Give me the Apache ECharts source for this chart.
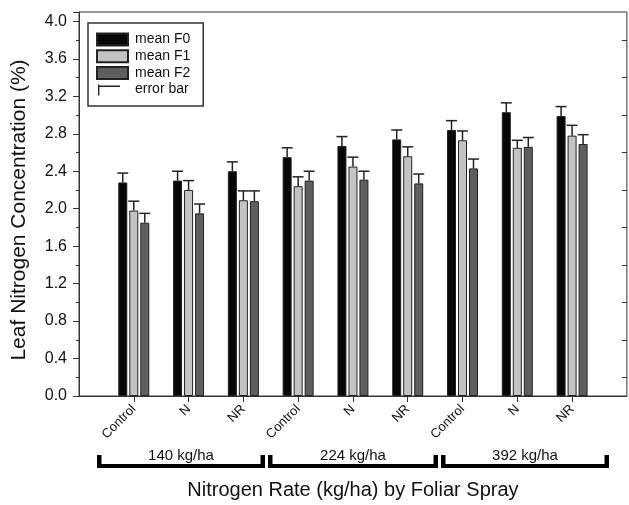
<!DOCTYPE html>
<html><head><meta charset="utf-8">
<script src="https://cdn.jsdelivr.net/npm/echarts@6/dist/echarts.min.js"></script>
<style>html,body{margin:0;padding:0;background:#fff}#c{width:629px;height:505px}</style>
</head><body><div id="c"></div>
<script>
// ---- data ----
const categories = ['Control', 'N', 'NR', 'Control', 'N', 'NR', 'Control', 'N', 'NR'];
const groupLabels = ['140 kg/ha', '224 kg/ha', '392 kg/ha'];
const seriesNames = ['mean F0', 'mean F1', 'mean F2'];
const meanF0 = [2.28, 2.30, 2.40, 2.55, 2.67, 2.74, 2.84, 3.03, 2.99];
const meanF1 = [1.98, 2.20, 2.09, 2.24, 2.45, 2.56, 2.73, 2.65, 2.78];
const meanF2 = [1.85, 1.95, 2.08, 2.30, 2.31, 2.27, 2.43, 2.66, 2.69];
const errF0 = [0.10, 0.10, 0.10, 0.10, 0.10, 0.10, 0.10, 0.10, 0.10];
const errF1 = [0.10, 0.10, 0.10, 0.10, 0.10, 0.10, 0.10, 0.08, 0.11];
const errF2 = [0.10, 0.10, 0.11, 0.10, 0.09, 0.10, 0.10, 0.10, 0.10];
const yTicks = [0.0, 0.4, 0.8, 1.2, 1.6, 2.0, 2.4, 2.8, 3.2, 3.6, 4.0];

// ---- styling ----
const FONT = '"Liberation Sans", Arial, Helvetica, sans-serif';
const colors = ['#070707', '#c3c3c3', '#5f5f5f'];
const BAR_W = 9, BAR_GAP = 2;

const axisCats = [''].concat(categories).concat(['']);
const pad = arr => [null].concat(arr).concat([null]);
const means = [meanF0, meanF1, meanF2];
const errs = [errF0, errF1, errF2];

const barSeries = means.map((m, s) => ({
  name: seriesNames[s],
  type: 'bar',
  data: pad(m),
  barWidth: BAR_W,
  barGap: (BAR_GAP / BAR_W * 100) + '%',
  itemStyle: { color: colors[s], borderColor: '#222', borderWidth: 1 },
  emphasis: { disabled: true },
  z: 2
}));

const errData = [];
means.forEach((m, s) => m.forEach((v, i) => errData.push([i + 1, v + errs[s][i], s, v])));

const errSeries = {
  name: 'error bar',
  type: 'custom',
  data: errData,
  itemStyle: { color: '#222' },
  z: 5,
  renderItem: function (params, api) {
    const cat = api.value(0), top = api.value(1), s = api.value(2), base = api.value(3);
    const p0 = api.coord([cat, base]);
    const p1 = api.coord([cat, top]);
    const x = p0[0] + (s - 1) * (BAR_W + BAR_GAP);
    const st = { stroke: '#222', lineWidth: 1.5, fill: null };
    return {
      type: 'group',
      children: [
        { type: 'line', shape: { x1: x, y1: p0[1], x2: x, y2: p1[1] }, style: st },
        { type: 'line', shape: { x1: x - 5.5, y1: p1[1], x2: x + 5.5, y2: p1[1] }, style: st }
      ]
    };
  }
};

// bracket annotations below the axis
const brackets = [[97, 265], [268, 438], [441, 609]];
const graphics = [];
brackets.forEach((b, k) => {
  graphics.push({ type: 'rect', shape: { x: b[0], y: 464, width: b[1] - b[0], height: 4 }, style: { fill: '#000' } });
  graphics.push({ type: 'rect', shape: { x: b[0], y: 455, width: 4.5, height: 13 }, style: { fill: '#000' } });
  graphics.push({ type: 'rect', shape: { x: b[1] - 4.5, y: 455, width: 4.5, height: 13 }, style: { fill: '#000' } });
  graphics.push({ type: 'text', x: (b[0] + b[1]) / 2, y: 456,
    style: { text: groupLabels[k], font: '15px ' + FONT, fill: '#111', textAlign: 'center', textVerticalAlign: 'middle' } });
});

const chart = echarts.init(document.getElementById('c'), null, { renderer: 'canvas' });
chart.setOption({
  animation: false,
  backgroundColor: '#fff',
  textStyle: { fontFamily: FONT },
  grid: { left: 79, top: 12, right: -2, bottom: 109, show: true, borderColor: '#333', borderWidth: 1, backgroundColor: 'transparent' },
  legend: {
    orient: 'vertical', left: 88, top: 23,
    itemWidth: 31, itemHeight: 12, itemGap: 1.7,
    padding: [9, 13, 9, 8],
    borderColor: '#333', borderWidth: 1.5, borderRadius: 0,
    textStyle: { fontSize: 14, lineHeight: 15, color: '#111', fontFamily: FONT, padding: [0, 0, 0, 2] },
    selectedMode: false,
    data: seriesNames.map(n => ({ name: n, icon: 'rect' })).concat([
      { name: 'error bar', icon: 'path://M1,1h1.4v11h-1.4z M1,2h22v1.4h-22z M0,0 M31,12', itemStyle: { color: '#222' } }
    ])
  },
  xAxis: {
    type: 'category',
    data: axisCats,
    boundaryGap: false,
    axisLine: { show: true, lineStyle: { color: '#333', width: 1 } },
    axisTick: { show: true, length: 6, interval: (i) => i > 0 && i < axisCats.length - 1, lineStyle: { color: '#333' } },
    axisLabel: { interval: 0, rotate: 45, fontSize: 13, color: '#111', margin: 11, fontFamily: FONT },
    splitLine: { show: false },
    name: 'Nitrogen Rate (kg/ha) by Foliar Spray',
    nameLocation: 'middle', nameGap: 84,
    nameTextStyle: { fontSize: 20, color: '#111', fontFamily: FONT }
  },
  yAxis: [{
    type: 'value',
    min: 0, max: 4.1, interval: 0.4,
    axisLine: { show: true, lineStyle: { color: '#333', width: 1 } },
    axisTick: { show: true, length: 6, lineStyle: { color: '#333' } },
    minorTick: { show: true, splitNumber: 2, length: 3, lineStyle: { color: '#333' } },
    splitLine: { show: false },
    axisLabel: {
      fontSize: 16, color: '#111', margin: 12, fontFamily: FONT,
      formatter: function (v) {
        const t = yTicks.find(tk => Math.abs(tk - v) < 1e-6);
        return t === undefined ? '' : t.toFixed(1);
      }
    },
    name: 'Leaf Nitrogen Concentration (%)',
    nameLocation: 'middle', nameGap: 49, nameRotate: 90,
    nameTextStyle: { fontSize: 21, color: '#111', fontFamily: FONT, padding: [0, 12, 0, 0] }
  }, {
    type: 'value',
    position: 'right',
    min: 0, max: 4.1, interval: 0.4,
    axisLine: { show: false },
    axisTick: { show: false, inside: true },
    minorTick: { show: true, splitNumber: 2, length: 5, lineStyle: { color: '#333' } },
    splitLine: { show: false },
    axisLabel: { show: false }
  }],
  graphic: graphics,
  series: barSeries.concat([errSeries])
});
</script>
</body></html>
